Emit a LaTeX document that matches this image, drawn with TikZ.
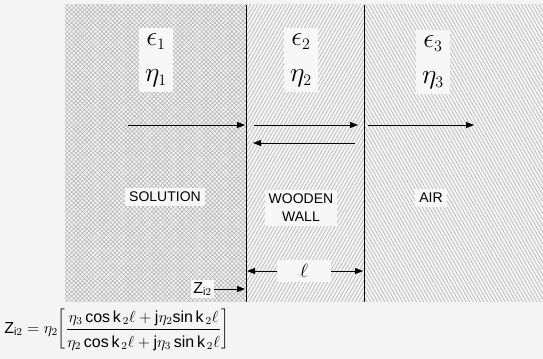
\documentclass[tikz,border=0pt]{standalone}
\usepackage{fontspec}
\setmainfont{Liberation Sans}
\usetikzlibrary{patterns.meta,arrows.meta}
\tikzset{
  lbl/.style={fill=white!97!black, inner sep=3pt, font=\fontsize{10.5}{13.5}\selectfont, align=center},
  mat/.style={fill=white!97!black, inner sep=4pt, font=\huge, align=center, minimum width=25pt},
  wave/.style={-{Triangle[length=6pt,width=4.5pt]}, line width=0.6pt},
}
\begin{document}
\begin{tikzpicture}[x=0.75pt,y=0.75pt,yscale=-1,xscale=1]
\fill [gray!9] (0,0) rectangle (543,359);
\useasboundingbox (0,0) rectangle (543,359);
%Solution: crosshatch
\fill [pattern={Hatch[angle=45,distance=2.3pt,line width=0.5pt]}, pattern color=gray!55] (65,5) rectangle (246,302);
%Wooden wall
\fill [pattern={Lines[angle=60,distance=2.3pt,line width=0.45pt]}, pattern color=gray!60] (246,5) rectangle (364,302);
%Air
\fill [pattern={Lines[angle=-60,distance=2.3pt,line width=0.45pt]}, pattern color=gray!60] (364,5) rectangle (543,302);
\draw [line width=0.6pt] (246,5) -- (246,302);
\draw [line width=0.6pt] (364,5) -- (364,302);
% media constants
\draw (156,60) node (m1) [mat] {$\epsilon_{\scriptscriptstyle 1}$\\[2pt]$\eta_{\scriptscriptstyle 1}$};
\draw (301,60) node (m2) [mat] {$\epsilon_{\scriptscriptstyle 2}$\\[2pt]$\eta_{\scriptscriptstyle 2}$};
\draw (433,62) node (m3) [mat] {$\epsilon_{\scriptscriptstyle 3}$\\[2pt]$\eta_{\scriptscriptstyle 3}$};
% region names
\draw (165,197) node (sol) [lbl] {SOLUTION};
\draw (301,208) node (wall) [lbl] {WOODEN\\WALL};
\draw (431,198) node (air) [lbl] {AIR};
% waves
\coordinate (w1a) at (128,125); \coordinate (w1b) at (245,125);
\coordinate (w2a) at (254,125); \coordinate (w2b) at (358,125);
\coordinate (w3a) at (368,125); \coordinate (w3b) at (474,125);
\coordinate (w4a) at (355,143); \coordinate (w4b) at (253,143);
\draw [wave] (w1a) -- (w1b);
\draw [wave] (w2a) -- (w2b);
\draw [wave] (w3a) -- (w3b);
\draw [wave] (w4a) -- (w4b);
% thickness
\draw (304,271) node (ell) [lbl, minimum width=40pt, minimum height=17pt, font=\Large] {$\ell$};
\coordinate (d1) at (247,271); \coordinate (d2) at (363,271);
\draw [wave] (ell.west) -- (d1);
\draw [wave] (ell.east) -- (d2);
% input impedance
\draw (214,289) node (zin) [lbl, anchor=east, inner sep=1.5pt, font=\large] {Z$_{\mathrm{i}2}$};
\coordinate (d3) at (245,289);
\draw [wave] (zin.east) -- (d3);
\draw (4,330) node (form) [anchor=west, inner sep=0pt, font=\large] {Z$_{\mathrm{i}2}=\eta_2\!\left[\displaystyle\frac{\rule[-4pt]{0pt}{14pt}\eta_3\,\mathrm{cos\,k}_{\,2}\ell+\mathrm{j}\eta_2\mathrm{sin\,k}_{\,2}\ell}{\rule[-3pt]{0pt}{15pt}\eta_2\,\mathrm{cos\,k}_{\,2}\ell+\mathrm{j}\eta_3\,\mathrm{sin\,k}_{\,2}\ell}\right]$};
\end{tikzpicture}
\end{document}
